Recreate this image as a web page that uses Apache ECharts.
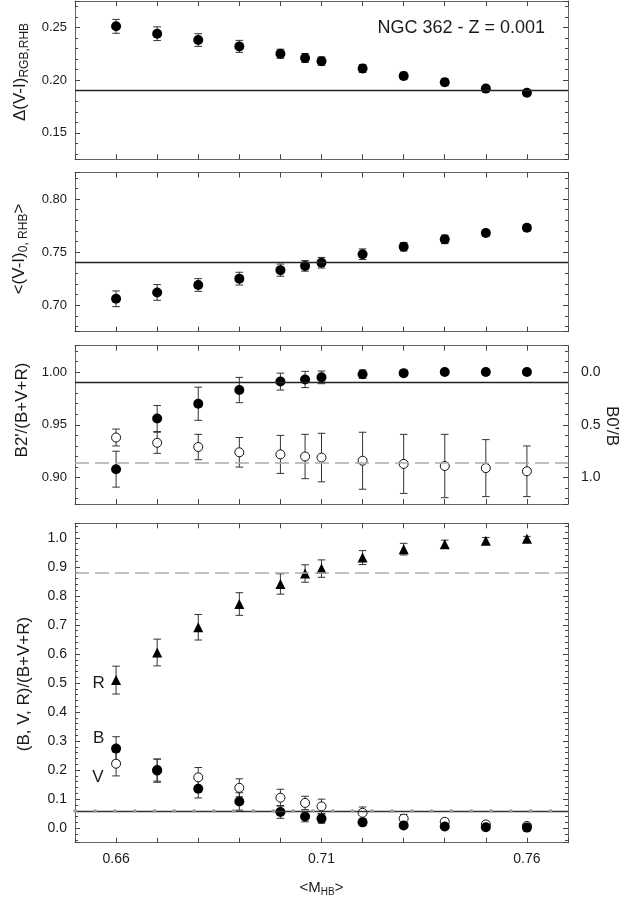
<!DOCTYPE html>
<html><head><meta charset="utf-8">
<script src="https://cdn.jsdelivr.net/npm/echarts@6/dist/echarts.min.js"></script>
<style>html,body{margin:0;padding:0;background:#fff}#c{width:623px;height:900px}</style>
</head><body><div id="c"></div>
<script>
// ---------------- data ----------------
const mhb = [0.66, 0.67, 0.68, 0.69, 0.70, 0.706, 0.71, 0.72, 0.73, 0.74, 0.75, 0.76];
const xTickLabels = ['0.66', '0.71', '0.76'];

const dVI    = [0.251, 0.244, 0.238, 0.232, 0.225, 0.221, 0.218, 0.211, 0.204, 0.198, 0.192, 0.188];
const dVIErr = [0.0066, 0.0065, 0.006, 0.0057, 0.0043, 0.0043, 0.004, 0.0038, 0.0035, 0.0033, 0.0025, 0.002];
const dVIRef = 0.192;

const vi0    = [0.706, 0.712, 0.719, 0.725, 0.733, 0.737, 0.740, 0.748, 0.755, 0.762, 0.768, 0.773];
const vi0Err = [0.0074, 0.0074, 0.006, 0.006, 0.0057, 0.005, 0.005, 0.005, 0.004, 0.004, 0.003, 0.003];
const vi0Ref = 0.740;

const b2Frac = [0.908, 0.956, 0.970, 0.983, 0.991, 0.993, 0.995, 0.998, 0.999, 1.000, 1.000, 1.000];
const b2Err  = [0.017, 0.0123, 0.0157, 0.012, 0.008, 0.0077, 0.006, 0.004, 0.002, 0.001, 0.001, 0.001];
const b2Ref  = 0.991;

const b0Frac = [0.62, 0.67, 0.71, 0.76, 0.78, 0.80, 0.81, 0.84, 0.87, 0.89, 0.91, 0.94];
const b0Err  = [0.08, 0.10, 0.12, 0.14, 0.18, 0.21, 0.23, 0.27, 0.28, 0.30, 0.27, 0.24];
const b0Ref  = 0.86;

const rFrac = [0.510, 0.605, 0.692, 0.772, 0.841, 0.877, 0.894, 0.932, 0.961, 0.978, 0.990, 0.997];
const rErr  = [0.048, 0.046, 0.044, 0.039, 0.035, 0.030, 0.030, 0.024, 0.020, 0.014, 0.011, 0.008];
const rRef  = 0.88;

const bFrac = [0.274, 0.200, 0.136, 0.092, 0.056, 0.040, 0.033, 0.020, 0.009, 0.006, 0.003, 0.002];
const bErr  = [0.041, 0.038, 0.032, 0.030, 0.022, 0.018, 0.016, 0.010, 0.006, 0.004, 0.003, 0.002];
const vFrac = [0.222, 0.198, 0.175, 0.139, 0.105, 0.087, 0.075, 0.053, 0.033, 0.022, 0.013, 0.008];
const vErr  = [0.042, 0.040, 0.034, 0.031, 0.029, 0.023, 0.025, 0.020, 0.014, 0.010, 0.008, 0.006];
const bvRef = 0.061;

// ---------------- helpers ----------------
const FONT = "'Liberation Sans', Arial, sans-serif";
const X_MIN = 0.65, X_MAX = 0.77;
const gridsPos = [
  {top: 1, height: 158.3},
  {top: 172.5, height: 159.2},
  {top: 345.7, height: 158.3},
  {top: 523.3, height: 319.4}
];
const grids = gridsPos.map(g => ({left: 75, width: 493, top: g.top, height: g.height}));

const lineCol = '#666', tickCol = '#444', textCol = '#1a1a1a';

function xAx(gi, pos, showLabels) {
  return {
    type: 'value', gridIndex: gi, position: pos, min: X_MIN, max: X_MAX, interval: 0.01,
    axisLine: {show: true, onZero: false, lineStyle: {color: lineCol, width: 1}},
    axisTick: {show: true, inside: true, length: 5, lineStyle: {color: tickCol}},
    splitLine: {show: false},
    axisLabel: {
      show: showLabels, interval: 0, margin: 9, fontSize: 14, fontFamily: FONT, color: textCol,
      formatter: v => xTickLabels.includes(v.toFixed(2)) ? v.toFixed(2) : ''
    }
  };
}
function yAx(gi, pos, min, max, split, digits, showLabels, extra) {
  return Object.assign({
    type: 'value', gridIndex: gi, position: pos, min: min, max: max, splitNumber: split,
    axisLine: {show: true, onZero: false, lineStyle: {color: lineCol, width: 1}},
    axisTick: {show: true, inside: true, length: 5, lineStyle: {color: tickCol}},
    minorTick: {show: true, splitNumber: 5, length: 3, lineStyle: {color: tickCol}},
    splitLine: {show: false}, minorSplitLine: {show: false},
    axisLabel: {
      show: showLabels, margin: 8, fontSize: 13, fontFamily: FONT, color: textCol,
      showMinLabel: false, showMaxLabel: false,
      formatter: v => v.toFixed(digits)
    }
  }, extra || {});
}

function errRender(params, api) {
  const x = api.value(0), lo = api.value(2), hi = api.value(3);
  const a = api.coord([x, lo]), b = api.coord([x, hi]);
  const hw = 3.8;
  const st = {stroke: '#333', lineWidth: 1};
  return {type: 'group', children: [
    {type: 'line', shape: {x1: a[0], y1: a[1], x2: b[0], y2: b[1]}, style: st},
    {type: 'line', shape: {x1: a[0] - hw, y1: a[1], x2: a[0] + hw, y2: a[1]}, style: st},
    {type: 'line', shape: {x1: b[0] - hw, y1: b[1], x2: b[0] + hw, y2: b[1]}, style: st}
  ]};
}
function errSeries(xi, yi, vals, errs) {
  return {
    type: 'custom', xAxisIndex: xi, yAxisIndex: yi, renderItem: errRender, silent: true, z: 2,
    encode: {x: 0, y: [1, 2, 3]},
    data: mhb.map((x, i) => [x, vals[i], vals[i] - errs[i], vals[i] + errs[i]])
  };
}
function ptSeries(xi, yi, vals, symbol, size, style, markLine) {
  const s = {
    type: 'scatter', xAxisIndex: xi, yAxisIndex: yi, symbol: symbol, symbolSize: size,
    itemStyle: Object.assign({opacity: 1}, style), z: 3, silent: true,
    data: mhb.map((x, i) => [x, vals[i]])
  };
  if (markLine) s.markLine = markLine;
  return s;
}
function refLine(v, ls) {
  return {silent: true, symbol: 'none', label: {show: false}, animation: false,
          lineStyle: ls, data: [{yAxis: v}]};
}
const filled = {color: '#000'};
const open = {color: '#fff', borderColor: '#111', borderWidth: 1};
const solidRef = {color: '#222', width: 1.3, type: 'solid'};
const dashRef = {color: '#aaa', width: 1.5, type: [14, 6]};

// ---------------- axes ----------------
const xAxes = [], yAxes = [];
for (let g = 0; g < 4; g++) {
  xAxes.push(xAx(g, 'bottom', g === 3));
  xAxes.push(xAx(g, 'top', false));
}
yAxes.push(yAx(0, 'left', 0.125, 0.275, 3, 2, true));
yAxes.push(yAx(0, 'right', 0.125, 0.275, 3, 2, false));
yAxes.push(yAx(1, 'left', 0.675, 0.825, 3, 2, true));
yAxes.push(yAx(1, 'right', 0.675, 0.825, 3, 2, false));
yAxes.push(yAx(2, 'left', 0.875, 1.025, 3, 2, true));
const b0Axis = yAx(2, 'right', -0.25, 1.25, 3, 1, true, {inverse: true});
b0Axis.axisLabel.margin = 13;
b0Axis.axisLabel.fontSize = 14;
yAxes.push(b0Axis);
const p4l = yAx(3, 'left', -0.05, 1.05, 11, 1, true);
p4l.axisLabel.fontSize = 14;
yAxes.push(p4l);
yAxes.push(yAx(3, 'right', -0.05, 1.05, 11, 1, false));

// ---------------- series ----------------
const series = [
  errSeries(0, 0, dVI, dVIErr),
  ptSeries(0, 0, dVI, 'circle', 10, filled, refLine(dVIRef, solidRef)),

  errSeries(2, 2, vi0, vi0Err),
  ptSeries(2, 2, vi0, 'circle', 10, filled, refLine(vi0Ref, solidRef)),

  errSeries(4, 5, b0Frac, b0Err),
  ptSeries(4, 5, b0Frac, 'circle', 9, open, refLine(b0Ref, dashRef)),
  errSeries(4, 4, b2Frac, b2Err),
  ptSeries(4, 4, b2Frac, 'circle', 10, filled, refLine(b2Ref, solidRef)),

  errSeries(6, 6, rFrac, rErr),
  ptSeries(6, 6, rFrac, 'triangle', 10, filled, refLine(rRef, dashRef)),
  errSeries(6, 6, vFrac, vErr),
  ptSeries(6, 6, vFrac, 'circle', 9, open, refLine(bvRef, {color: '#333', width: 1.3, type: 'solid'})),
  errSeries(6, 6, bFrac, bErr),
  ptSeries(6, 6, bFrac, 'circle', 10, filled,
    refLine(bvRef, {color: '#9a9a9a', width: 3.5, type: [0.5, 19.3], cap: 'round'}))
];

// ---------------- text ----------------
function vtext(x, y, rot, text, rich) {
  return {type: 'text', x: x, y: y, rotation: rot, silent: true,
    style: {text: text, rich: rich, align: 'center', verticalAlign: 'middle',
            fontFamily: FONT, fontSize: 16, fill: textCol}};
}
const richT = {
  m: {fontSize: 17, fontFamily: FONT, fill: textCol},
  s: {fontSize: 12, fontFamily: FONT, fill: textCol, padding: [10, 0, 0, 0]}
};
const graphic = [
  vtext(20, 72, Math.PI / 2, '{m|Δ(V-I)}{s|RGB,RHB}', richT),
  vtext(19, 249, Math.PI / 2, '{m|<(V-I)}{s|0, RHB}{m|>}', richT),
  vtext(22, 410, Math.PI / 2, "{m|B2'/(B+V+R)}", richT),
  vtext(24, 684, Math.PI / 2, '{m|(B, V, R)/(B+V+R)}', richT),
  vtext(612, 426, -Math.PI / 2, "{m|B0'/B}", richT),
  vtext(321.5, 888, 0, '{m|<M}{s|HB}{m|>}', {
    m: {fontSize: 15, fontFamily: FONT, fill: textCol},
    s: {fontSize: 10, fontFamily: FONT, fill: textCol, padding: [9, 0, 0, 0]}
  }),
  {type: 'text', x: 545, y: 28.5, silent: true,
   style: {text: 'NGC 362 - Z = 0.001', align: 'right', verticalAlign: 'middle',
           fontFamily: FONT, fontSize: 18, fill: textCol}},
  {type: 'text', x: 98.6, y: 683, silent: true,
   style: {text: 'R', align: 'center', verticalAlign: 'middle', fontFamily: FONT, fontSize: 17, fill: textCol}},
  {type: 'text', x: 98.6, y: 738, silent: true,
   style: {text: 'B', align: 'center', verticalAlign: 'middle', fontFamily: FONT, fontSize: 17, fill: textCol}},
  {type: 'text', x: 98, y: 777, silent: true,
   style: {text: 'V', align: 'center', verticalAlign: 'middle', fontFamily: FONT, fontSize: 17, fill: textCol}}
];

const chart = echarts.init(document.getElementById('c'), null, {renderer: 'canvas'});
chart.setOption({
  animation: false,
  backgroundColor: '#fff',
  grid: grids,
  xAxis: xAxes,
  yAxis: yAxes,
  series: series,
  graphic: graphic
});
</script>
</body></html>
